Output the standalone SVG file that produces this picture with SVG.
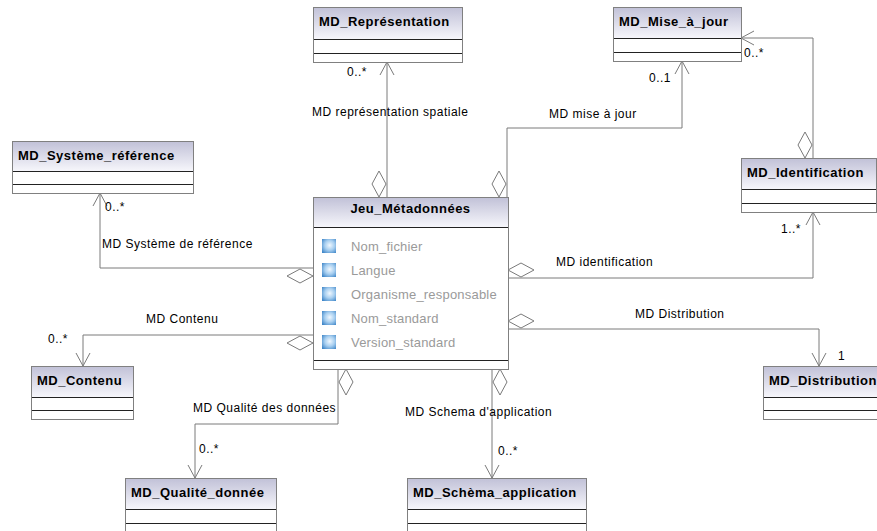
<svg xmlns="http://www.w3.org/2000/svg" width="877" height="531" viewBox="0 0 877 531">
<style>
text{font-family:"Liberation Sans",Arial,sans-serif;fill:#000}
.t{font-size:13px;font-weight:bold;letter-spacing:0.5px}
.l{font-size:12px;letter-spacing:0.5px}
.a{font-size:13px;fill:#9a9a9a;letter-spacing:0.2px}
.box{fill:#fff;stroke:#808080;stroke-width:1}
.hd{fill:url(#hg)}
.sep{stroke:#222;stroke-width:1}
.c{fill:none;stroke:#7a7a7a;stroke-width:1;marker-start:url(#dia);marker-end:url(#arr)}
</style>
<defs>
<linearGradient id="hg" x1="0" y1="0" x2="0" y2="1">
<stop offset="0" stop-color="#c2c2d8"/>
<stop offset="1" stop-color="#f6f6fb"/>
</linearGradient>
<radialGradient id="ig" cx="0.55" cy="0.45" r="0.7">
<stop offset="0" stop-color="#f0f8ff"/>
<stop offset="0.5" stop-color="#a8cff0"/>
<stop offset="1" stop-color="#3f86c8"/>
</radialGradient>
<marker id="dia" markerUnits="userSpaceOnUse" markerWidth="30" markerHeight="18" refX="0" refY="8" orient="auto" viewBox="-1 -8 30 16" overflow="visible">
<path d="M0,0 L13,-7 L26,0 L13,7 Z" fill="#fff" stroke="#7a7a7a" stroke-width="1"/>
</marker>
<marker id="arr" markerUnits="userSpaceOnUse" markerWidth="16" markerHeight="18" refX="0" refY="0" orient="auto" viewBox="-15 -9 16 18" overflow="visible">
<path d="M-13,-7 L0,0 L-13,7" fill="none" stroke="#7a7a7a" stroke-width="1"/>
</marker>
</defs>
<rect width="877" height="531" fill="#fff"/>

<g id="connectors">
<path class="c" d="M387,197 V62"/>
<path class="c" d="M507,197 V128 H682 V61"/>
<path class="c" d="M813,158 V38 H741"/>
<path class="c" d="M508,278 H813 V212"/>
<path class="c" d="M508,329 H819 V366"/>
<path class="c" d="M313,268 H100 V193"/>
<path class="c" d="M313,335 H83 V366"/>
<path class="c" d="M338,369 V424 H195 V478"/>
<path class="c" d="M492,369 V478"/>
</g>

<g id="labels">
<text class="l" x="347" y="76">0..*</text>
<text class="l" x="312" y="116">MD représentation spatiale</text>
<text class="l" x="649" y="82">0..1</text>
<text class="l" x="744" y="57">0..*</text>
<text class="l" x="549" y="118">MD mise à jour</text>
<text class="l" x="105" y="211">0..*</text>
<text class="l" x="102" y="248">MD Système de référence</text>
<text class="l" x="556" y="266">MD identification</text>
<text class="l" x="781" y="233">1..*</text>
<text class="l" x="635" y="318">MD Distribution</text>
<text class="l" x="838" y="360">1</text>
<text class="l" x="146" y="323">MD Contenu</text>
<text class="l" x="48" y="343">0..*</text>
<text class="l" x="193" y="412">MD Qualité des données</text>
<text class="l" x="199" y="453">0..*</text>
<text class="l" x="405" y="416">MD Schema d'application</text>
<text class="l" x="498" y="455">0..*</text>
</g>

<g id="MD_Representation">
<rect class="box" x="313.5" y="7.5" width="149" height="55"/>
<rect class="hd" x="314" y="8" width="148" height="31"/>
<line class="sep" x1="314" y1="39.5" x2="462" y2="39.5"/>
<line class="sep" x1="314" y1="53.5" x2="462" y2="53.5"/>
<text class="t" x="319" y="26">MD_Représentation</text>
</g>

<g id="MD_Mise_a_jour">
<rect class="box" x="613.5" y="7.5" width="128" height="54"/>
<rect class="hd" x="614" y="8" width="127" height="30"/>
<line class="sep" x1="614" y1="38.5" x2="741" y2="38.5"/>
<line class="sep" x1="614" y1="52.5" x2="741" y2="52.5"/>
<text class="t" x="619" y="26">MD_Mise_à_jour</text>
</g>

<g id="MD_Systeme_reference">
<rect class="box" x="12.5" y="141.5" width="181" height="52"/>
<rect class="hd" x="13" y="142" width="180" height="29"/>
<line class="sep" x1="13" y1="171.5" x2="193" y2="171.5"/>
<line class="sep" x1="13" y1="184.5" x2="193" y2="184.5"/>
<text class="t" x="18" y="160">MD_Système_référence</text>
</g>

<g id="MD_Identification">
<rect class="box" x="741.5" y="158.5" width="135" height="54"/>
<rect class="hd" x="742" y="159" width="134" height="30"/>
<line class="sep" x1="742" y1="189.5" x2="876" y2="189.5"/>
<line class="sep" x1="742" y1="203.5" x2="876" y2="203.5"/>
<text class="t" x="747" y="177">MD_Identification</text>
</g>

<g id="Jeu_Metadonnees">
<rect class="box" x="313.5" y="197.5" width="195" height="172"/>
<rect class="hd" x="314" y="198" width="194" height="29"/>
<line class="sep" x1="314" y1="227.5" x2="508" y2="227.5"/>
<line class="sep" x1="314" y1="360.5" x2="508" y2="360.5"/>
<text class="t" x="410.5" y="213" text-anchor="middle">Jeu_Métadonnées</text>
<rect x="322" y="239" width="14" height="14" fill="url(#ig)"/>
<rect x="322" y="263" width="14" height="14" fill="url(#ig)"/>
<rect x="322" y="287" width="14" height="14" fill="url(#ig)"/>
<rect x="322" y="311" width="14" height="14" fill="url(#ig)"/>
<rect x="322" y="335" width="14" height="14" fill="url(#ig)"/>
<text class="a" x="351" y="251">Nom_fichier</text>
<text class="a" x="351" y="275">Langue</text>
<text class="a" x="351" y="299">Organisme_responsable</text>
<text class="a" x="351" y="323">Nom_standard</text>
<text class="a" x="351" y="347">Version_standard</text>
</g>

<g id="MD_Contenu">
<rect class="box" x="31.5" y="366.5" width="102" height="53"/>
<rect class="hd" x="32" y="367" width="101" height="30"/>
<line class="sep" x1="32" y1="397.5" x2="133" y2="397.5"/>
<line class="sep" x1="32" y1="410.5" x2="133" y2="410.5"/>
<text class="t" x="37" y="385">MD_Contenu</text>
</g>

<g id="MD_Distribution">
<rect class="box" x="763.5" y="366.5" width="130" height="53"/>
<rect class="hd" x="764" y="367" width="129" height="30"/>
<line class="sep" x1="764" y1="397.5" x2="893" y2="397.5"/>
<line class="sep" x1="764" y1="410.5" x2="893" y2="410.5"/>
<text class="t" x="769" y="385">MD_Distribution</text>
</g>

<g id="MD_Qualite_donnee">
<rect class="box" x="125.5" y="478.5" width="151" height="60"/>
<rect class="hd" x="126" y="479" width="150" height="30"/>
<line class="sep" x1="126" y1="509.5" x2="276" y2="509.5"/>
<line class="sep" x1="126" y1="523.5" x2="276" y2="523.5"/>
<text class="t" x="131" y="497">MD_Qualité_donnée</text>
</g>

<g id="MD_Schema_application">
<rect class="box" x="407.5" y="478.5" width="179" height="60"/>
<rect class="hd" x="408" y="479" width="178" height="30"/>
<line class="sep" x1="408" y1="509.5" x2="586" y2="509.5"/>
<line class="sep" x1="408" y1="523.5" x2="586" y2="523.5"/>
<text class="t" x="413" y="497">MD_Schèma_application</text>
</g>
</svg>
